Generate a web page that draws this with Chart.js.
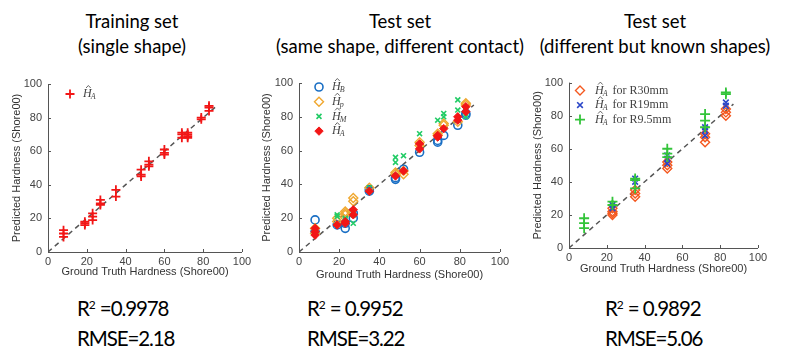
<!DOCTYPE html>
<html>
<head>
<meta charset="utf-8">
<script src="https://cdn.jsdelivr.net/npm/chart.js@4.4.1/dist/chart.umd.min.js"></script>
<style>
  body { margin: 0; width: 787px; height: 360px; background: #fff; position: relative; overflow: hidden; font-family: Lato, "Open Sans", sans-serif; }
  .head { position: absolute; top: 9px; transform: translateX(-50%); text-align: center; font-size: 18.5px; line-height: 25px; color: #000; white-space: nowrap; }
  .stats { position: absolute; top: 293px; font-size: 20.5px; letter-spacing: -1.1px; line-height: 30px; color: #000; white-space: nowrap; }
  .stats sup { font-size: 12px; line-height: 0; vertical-align: 7px; letter-spacing: 0; }
  .box { position: absolute; top: 70px; height: 215px; }
</style>
</head>
<body>
<div class="head" style="left:132px">Training set<br>(single shape)</div>
<div class="head" style="left:400px">Test set<br>(same shape, different contact)</div>
<div class="head" style="left:655px">Test set<br>(different but known shapes)</div>

<div class="box" style="left:0;width:260px"><canvas id="c1"></canvas></div>
<div class="box" style="left:260px;width:262px"><canvas id="c2"></canvas></div>
<div class="box" style="left:530px;width:257px"><canvas id="c3"></canvas></div>

<div class="stats" style="left:77px">R<sup>2</sup> =0.9978<br>RMSE=2.18</div>
<div class="stats" style="left:307px">R<sup>2</sup> = 0.9952<br>RMSE=3.22</div>
<div class="stats" style="left:605px">R<sup>2</sup> = 0.9892<br>RMSE=5.06</div>

<script>
// axis ticks (same on both axes)
const tickValues = [0, 20, 40, 60, 80, 100];
// y = x reference line
const diagX = [0, 87];

// training set, single shape
const trainX  = [8, 8, 8, 19, 19, 19, 23, 23, 23, 27, 27, 27, 35, 35, 48, 48, 48, 52, 52, 52, 60, 60, 60, 69, 69, 69, 72, 72, 72, 72, 79, 79, 83, 83, 83];
const trainHA = [9, 11, 13, 16, 17, 18, 19, 21, 23, 28, 29, 31, 33, 37, 45, 46, 49, 51, 52, 54, 58, 59, 61, 68, 70, 71, 68, 69, 70, 71, 79, 80, 84, 86, 87];

// test set, same shape different contact
const hbX = [8, 8, 19, 23, 23, 27, 27, 35, 35, 48, 48, 52, 60, 69, 69, 72, 79, 83, 83];
const hbY = [19, 12, 16, 14, 17, 20, 23, 36, 37, 43, 44, 49, 59, 65, 66, 69, 75, 81, 82];
const hpX = [8, 8, 19, 19, 23, 23, 23, 27, 27, 35, 48, 48, 52, 52, 60, 60, 69, 69, 72, 72, 79, 83, 83];
const hpY = [14, 11, 18, 20, 22, 23, 24, 32, 30, 38, 46, 47, 46, 48, 65, 63, 70, 69, 76, 75, 77, 88, 87];
const hmX = [8, 8, 19, 19, 23, 23, 27, 27, 35, 48, 48, 52, 60, 69, 72, 72, 79, 79, 83, 83];
const hmY = [12, 13, 22, 21, 20, 19, 17, 22, 38, 56, 53, 57, 70, 78, 82, 80, 90, 84, 80, 84];
const haX = [8, 8, 8, 19, 23, 23, 27, 27, 35, 48, 52, 60, 60, 69, 69, 72, 79, 79, 83, 83];
const haY = [10, 14, 12, 16, 17, 18, 22, 25, 36, 45, 48, 61, 64, 68, 69, 73, 78, 80, 83, 86];

// test set, different but known shapes
const r30X  = [23, 23, 23, 23, 35, 35, 35, 52, 52, 52, 72, 72, 72, 83, 83, 83];
const r30Y  = [20, 21, 22, 24, 31, 33, 35, 48, 50, 52, 64, 67, 69, 80, 82, 84];
const r19X  = [23, 23, 35, 35, 52, 52, 52, 72, 72, 72, 83, 83];
const r19Y  = [24, 26, 40, 42, 51, 54, 56, 68, 71, 73, 86, 88];
const r95X  = [8, 8, 8, 23, 23, 35, 35, 35, 52, 52, 52, 72, 72, 72, 83, 83];
const r95Y  = [12, 15, 18, 26, 28, 36, 41, 42, 55, 57, 60, 73, 77, 81, 93, 94];

const pts = (xs, ys) => xs.map((x, i) => ({ x, y: ys[i] }));

const diagSet = () => ({
  type: 'line', data: pts(diagX, diagX), borderColor: '#555', borderWidth: 1.5,
  borderDash: [5, 4], pointRadius: 0, fill: false, order: 9,
});

// MATLAB-ish axes: left/bottom line with inward ticks, legend inside the plot
const matlabAxes = {
  id: 'matlabAxes',
  afterDatasetsDraw(chart, args, opts) {
    const { ctx, chartArea: a, scales: { x, y } } = chart;
    ctx.save();
    ctx.strokeStyle = '#555';
    ctx.lineWidth = 1;
    ctx.beginPath();
    ctx.moveTo(a.left + 0.5, a.top);
    ctx.lineTo(a.left + 0.5, a.bottom + 0.5);
    ctx.lineTo(a.right, a.bottom + 0.5);
    tickValues.forEach(v => {
      const px = Math.round(x.getPixelForValue(v)) + 0.5;
      ctx.moveTo(px, a.bottom); ctx.lineTo(px, a.bottom - 3);
      const py = Math.round(y.getPixelForValue(v)) + 0.5;
      ctx.moveTo(a.left, py); ctx.lineTo(a.left + 3, py);
    });
    ctx.stroke();

    // legend
    const items = opts.items || [];
    items.forEach((it, i) => {
      const ds = chart.data.datasets[it.ds];
      const mx = a.left + opts.dx;
      const my = a.top + opts.dy + i * opts.gap;
      ctx.save();
      ctx.strokeStyle = ds.borderColor;
      ctx.fillStyle = ds.backgroundColor || 'rgba(0,0,0,0)';
      ctx.lineWidth = ds.borderWidth;
      Chart.helpers.drawPoint(ctx, { pointStyle: ds.pointStyle, radius: ds.pointRadius, rotation: 0, borderWidth: ds.borderWidth }, mx, my);
      ctx.restore();

      const tx = mx + opts.tx;
      ctx.fillStyle = '#444';
      ctx.strokeStyle = '#444';
      ctx.textBaseline = 'middle';
      ctx.font = 'italic 12px "Liberation Serif"';
      ctx.fillText('H', tx, my);
      const w = ctx.measureText('H').width;
      ctx.lineWidth = 0.8;
      ctx.beginPath();
      ctx.moveTo(tx + w * 0.35, my - 6);
      ctx.lineTo(tx + w * 0.62, my - 8.5);
      ctx.lineTo(tx + w * 0.89, my - 6);
      ctx.stroke();
      ctx.font = 'italic 8px "Liberation Serif"';
      ctx.fillText(it.sub, tx + w - 1, my + 3);
      const sw = ctx.measureText(it.sub).width;
      if (it.suffix) {
        ctx.font = '12px "Liberation Serif"';
        ctx.fillText(it.suffix, tx + w + sw + 1, my);
      }
    });
    ctx.restore();
  },
};

function axis(size, isX, titlePad) {
  return {
    type: 'linear', min: 0, max: 100,
    afterBuildTicks: s => { s.ticks = tickValues.map(v => ({ value: v })); },
    afterFit: s => { if (isX) s.height = size; else s.width = size; },
    grid: { display: false, drawTicks: false },
    border: { display: false },
    ticks: { color: '#444', font: { family: '"Liberation Sans"', size: 11 }, padding: isX ? 3 : 6, maxRotation: 0 },
    title: {
      display: true,
      text: isX ? 'Ground Truth Hardness (Shore00)' : 'Predicted Hardness (Shore00)',
      color: '#333', font: { family: '"Liberation Sans"', size: 11 },
      padding: isX ? { top: 0, bottom: titlePad } : { top: titlePad, bottom: 0 },
    },
  };
}

function makeChart(id, datasets, g, legend) {
  return new Chart(document.getElementById(id), {
    type: 'scatter',
    data: { datasets },
    options: {
      responsive: true,
      maintainAspectRatio: false,
      animation: false,
      layout: { padding: { top: g.top, right: g.right, bottom: 0, left: 0 } },
      plugins: { legend: { display: false }, tooltip: { enabled: false }, matlabAxes: legend },
      scales: { x: axis(g.xH, true, g.xPad), y: axis(g.yW, false, g.yPad) },
    },
    plugins: [matlabAxes],
  });
}

makeChart('c1', [
  { label: 'HA', data: pts(trainX, trainHA), pointStyle: 'cross', pointRadius: 4.5, borderWidth: 1.8, borderColor: '#f21616', backgroundColor: '#f21616', order: 1 },
  diagSet(),
], { top: 14, right: 18, xH: 33, yW: 48, xPad: 6, yPad: 10 },
{ dx: 22, dy: 10, gap: 14, tx: 13, items: [{ ds: 0, sub: 'A' }] });

makeChart('c2', [
  { label: 'HB', data: pts(hbX, hbY), pointStyle: 'circle', pointRadius: 4, borderWidth: 1.6, borderColor: '#1a6fc4', backgroundColor: 'rgba(0,0,0,0)', order: 4 },
  { label: 'Hp', data: pts(hpX, hpY), pointStyle: 'rectRot', pointRadius: 4.5, borderWidth: 1.4, borderColor: '#f0a830', backgroundColor: 'rgba(0,0,0,0)', order: 3 },
  { label: 'HM', data: pts(hmX, hmY), pointStyle: 'crossRot', pointRadius: 3.5, borderWidth: 1.6, borderColor: '#22cc66', backgroundColor: '#22cc66', order: 2 },
  { label: 'HA', data: pts(haX, haY), pointStyle: 'rectRot', pointRadius: 4.2, borderWidth: 1, borderColor: '#f21616', backgroundColor: '#f21616', order: 1 },
  diagSet(),
], { top: 13, right: 22, xH: 33, yW: 39, xPad: 3, yPad: 0 },
{ dx: 20, dy: 4, gap: 14.7, tx: 13, items: [{ ds: 0, sub: 'B' }, { ds: 1, sub: 'p' }, { ds: 2, sub: 'M' }, { ds: 3, sub: 'A' }] });

makeChart('c3', [
  { label: 'R30', data: pts(r30X, r30Y), pointStyle: 'rectRot', pointRadius: 4.5, borderWidth: 1.4, borderColor: '#f4581f', backgroundColor: 'rgba(0,0,0,0)', order: 3 },
  { label: 'R19', data: pts(r19X, r19Y), pointStyle: 'crossRot', pointRadius: 4, borderWidth: 1.6, borderColor: '#2a46c8', backgroundColor: '#2a46c8', order: 2 },
  { label: 'R9.5', data: pts(r95X, r95Y), pointStyle: 'cross', pointRadius: 5, borderWidth: 1.8, borderColor: '#33c43a', backgroundColor: '#33c43a', order: 1 },
  diagSet(),
], { top: 12, right: 29, xH: 37, yW: 39, xPad: 9, yPad: 1 },
{ dx: 11, dy: 8, gap: 14.5, tx: 15, items: [{ ds: 0, sub: 'A', suffix: ' for R30mm' }, { ds: 1, sub: 'A', suffix: ' for R19mm' }, { ds: 2, sub: 'A', suffix: ' for R9.5mm' }] });
</script>
</body>
</html>
